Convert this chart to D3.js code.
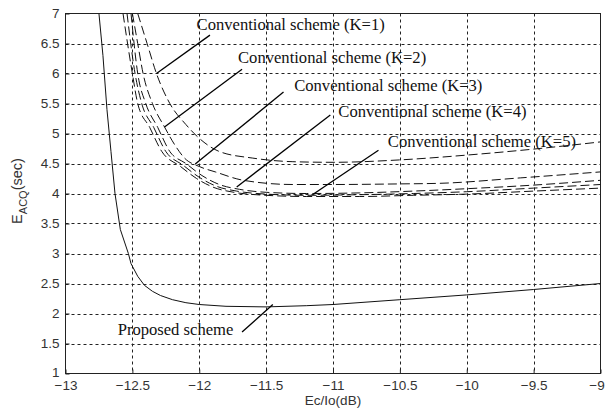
<!DOCTYPE html>
<html>
<head>
<meta charset="utf-8">
<script src="https://cdn.jsdelivr.net/npm/d3@7"></script>
<style>
  body { margin: 0; background: #fff; }
  svg { display: block; }
</style>
</head>
<body>
<script>
// x values (Ec/Io in dB) and E_ACQ values (sec)
const propX = [-12.75, -12.72, -12.69, -12.66, -12.63, -12.59, -12.53, -12.51, -12.46, -12.41, -12.35, -12.29, -12.2, -12.1, -12.0, -11.8, -11.5, -11.2, -11.0, -10.5, -10.0, -9.5, -9.0]
const propY = [7.0, 6.3, 5.4, 4.7, 4.0, 3.4, 3.0, 2.83, 2.62, 2.47, 2.37, 2.30, 2.23, 2.18, 2.15, 2.12, 2.11, 2.13, 2.15, 2.23, 2.31, 2.40, 2.50]

const k1X = [-12.46, -12.39, -12.32, -12.22, -12.10, -12.01, -11.85, -11.6, -11.3, -11.0, -10.5, -10.0, -9.5, -9.0]
const k1Y = [7.0, 6.5, 6.0, 5.5, 5.15, 4.94, 4.70, 4.59, 4.53, 4.52, 4.56, 4.64, 4.74, 4.86]

const k2X = [-12.50, -12.46, -12.42, -12.35, -12.26, -12.18, -12.11, -12.0, -11.88, -11.67, -11.3, -11.0, -10.5, -10.2, -9.6, -9.0]
const k2Y = [7.0, 6.5, 6.0, 5.5, 5.11, 4.80, 4.59, 4.45, 4.36, 4.22, 4.15, 4.15, 4.16, 4.17, 4.26, 4.36]

const k3X = [-12.51, -12.46, -12.40, -12.31, -12.22, -12.10, -11.98, -11.85, -11.7, -11.5, -11.2, -10.8, -10.4, -10.0, -9.5, -9.0]
const k3Y = [7.0, 6.0, 5.5, 5.1, 4.7, 4.5, 4.3, 4.15, 4.07, 4.02, 4.0, 4.01, 4.04, 4.08, 4.14, 4.22]

const k4X = [-12.54, -12.48, -12.43, -12.34, -12.25, -12.12, -12.0, -11.87, -11.72, -11.5, -11.2, -10.8, -10.4, -10.0, -9.5, -9.0]
const k4Y = [7.0, 6.0, 5.5, 5.1, 4.7, 4.47, 4.27, 4.12, 4.04, 3.99, 3.97, 3.98, 4.0, 4.03, 4.09, 4.15]

const k5X = [-12.57, -12.50, -12.46, -12.37, -12.28, -12.14, -12.02, -11.89, -11.74, -11.5, -11.2, -10.8, -10.4, -10.0, -9.5, -9.0]
const k5Y = [7.0, 6.0, 5.5, 5.1, 4.7, 4.45, 4.25, 4.1, 4.02, 3.97, 3.95, 3.95, 3.97, 3.99, 4.04, 4.09]

const xTicks = [-13, -12.5, -12, -11.5, -11, -10.5, -10, -9.5, -9]
const yTicks = [1, 1.5, 2, 2.5, 3, 3.5, 4, 4.5, 5, 5.5, 6, 6.5, 7]

// annotation labels: text position and pointer line, in data units
const labelText = ['Conventional scheme (K=1)', 'Conventional scheme (K=2)', 'Conventional scheme (K=3)',
    'Conventional scheme (K=4)', 'Conventional scheme (K=5)', 'Proposed scheme']
const labelPos = [[-12.02, 6.72], [-11.71, 6.18], [-11.29, 5.71], [-10.96, 5.28], [-10.59, 4.78], [-12.61, 1.64]]
const pointerFrom = [[-11.92, 6.64], [-11.68, 6.07], [-11.37, 5.69], [-11.02, 5.31], [-10.66, 4.72], [-11.68, 1.69]]
const pointerTo = [[-12.32, 6.0], [-12.26, 5.11], [-12.03, 4.49], [-11.72, 4.11], [-11.14, 4.0], [-11.45, 2.15]]

const W = 605, H = 409
const box = { left: 65.5, right: 600.5, top: 13.5, bottom: 373.5 }

const svg = d3.select('body').append('svg')
    .attr('width', W)
    .attr('height', H)
    .style('background-color', '#fff')

const x = d3.scaleLinear().domain([-13, -9]).range([box.left, box.right])
const y = d3.scaleLinear().domain([1, 7]).range([box.bottom, box.top])

svg.append('defs').append('clipPath').attr('id', 'plot')
    .append('rect')
    .attr('x', box.left).attr('y', box.top)
    .attr('width', box.right - box.left).attr('height', box.bottom - box.top)

// grid
svg.append('g')
    .selectAll('line')
    .data(xTicks.slice(1, -1))
    .enter().append('line')
    .attr('x1', d => Math.round(x(d)) + 0.5)
    .attr('x2', d => Math.round(x(d)) + 0.5)
    .attr('y1', box.top)
    .attr('y2', box.bottom)
    .style('stroke', '#222')
    .style('stroke-dasharray', '3,3')

svg.append('g')
    .selectAll('line')
    .data(yTicks.slice(1, -1))
    .enter().append('line')
    .attr('x1', box.left)
    .attr('x2', box.right)
    .attr('y1', d => Math.round(y(d)) + 0.5)
    .attr('y2', d => Math.round(y(d)) + 0.5)
    .style('stroke', '#222')
    .style('stroke-dasharray', '3,3')

// axes (ticks inside, as in the original)
const xAxis = svg.append('g')
    .attr('transform', `translate(0, ${box.bottom})`)
    .call(d3.axisBottom(x).tickValues(xTicks).tickSize(-4).tickPadding(7).tickFormat(d3.format('')))
const yAxis = svg.append('g')
    .attr('transform', `translate(${box.left}, 0)`)
    .call(d3.axisLeft(y).tickValues(yTicks).tickSize(-4).tickPadding(6).tickFormat(d3.format('')))

;[xAxis, yAxis].forEach(a => {
    a.select('.domain').remove()
    a.selectAll('line').style('stroke', '#222')
    a.selectAll('text')
        .style('font-family', '"Liberation Sans", Arial, sans-serif')
        .style('font-size', '13.5px')
        .style('fill', '#333')
})
// keep the end labels clear of the window edge and of each other
xAxis.selectAll('text').filter(d => d === -9).attr('dx', -4)
yAxis.selectAll('text').filter(d => d === 1).attr('dy', '0.2em')

svg.append('rect')
    .attr('x', box.left).attr('y', box.top)
    .attr('width', box.right - box.left).attr('height', box.bottom - box.top)
    .style('fill', 'none')
    .style('stroke', '#222')
    .style('stroke-width', 1)

// curves
const zipPts = (xs, ys) => xs.map((v, i) => [v, ys[i]])
const smooth = d3.line().x(d => x(d[0])).y(d => y(d[1])).curve(d3.curveMonotoneX)
const straight = d3.line().x(d => x(d[0])).y(d => y(d[1]))

const curves = svg.append('g').attr('clip-path', 'url(#plot)')

const conv = [zipPts(k1X, k1Y), zipPts(k2X, k2Y), zipPts(k3X, k3Y), zipPts(k4X, k4Y), zipPts(k5X, k5Y)]
curves.selectAll('.conv')
    .data(conv)
    .enter().append('path')
    .attr('class', 'conv')
    .attr('d', smooth)
    .style('fill', 'none')
    .style('stroke', '#111')
    .style('stroke-width', 1)
    .style('stroke-dasharray', '9,4')

curves.append('path')
    .attr('d', straight(zipPts(propX, propY)))
    .style('fill', 'none')
    .style('stroke', '#111')
    .style('stroke-width', 1)

// annotations
svg.append('g')
    .selectAll('line')
    .data(labelText)
    .enter().append('line')
    .attr('x1', (d, i) => x(pointerFrom[i][0]))
    .attr('y1', (d, i) => y(pointerFrom[i][1]))
    .attr('x2', (d, i) => x(pointerTo[i][0]))
    .attr('y2', (d, i) => y(pointerTo[i][1]))
    .style('stroke', '#000')
    .style('stroke-width', 1.3)

svg.append('g')
    .selectAll('text')
    .data(labelText)
    .enter().append('text')
    .attr('x', (d, i) => x(labelPos[i][0]))
    .attr('y', (d, i) => y(labelPos[i][1]))
    .style('font-family', '"Liberation Serif", "Times New Roman", serif')
    .style('font-size', '16.6px')
    .style('fill', '#111')
    .text(d => d)

// axis titles
svg.append('text')
    .attr('x', (box.left + box.right) / 2)
    .attr('y', 405)
    .style('text-anchor', 'middle')
    .style('font-family', '"Liberation Sans", Arial, sans-serif')
    .style('font-size', '13.5px')
    .style('fill', '#333')
    .text('Ec/Io(dB)')

const yTitle = svg.append('text')
    .attr('transform', 'translate(22, 191) rotate(-90)')
    .style('text-anchor', 'middle')
    .style('font-family', '"Liberation Sans", Arial, sans-serif')
    .style('font-size', '14.5px')
    .style('fill', '#333')
yTitle.append('tspan').text('E')
yTitle.append('tspan').attr('dy', 5).style('font-size', '11px').text('ACQ')
yTitle.append('tspan').attr('dy', -5).text('(sec)')
</script>
</body>
</html>
